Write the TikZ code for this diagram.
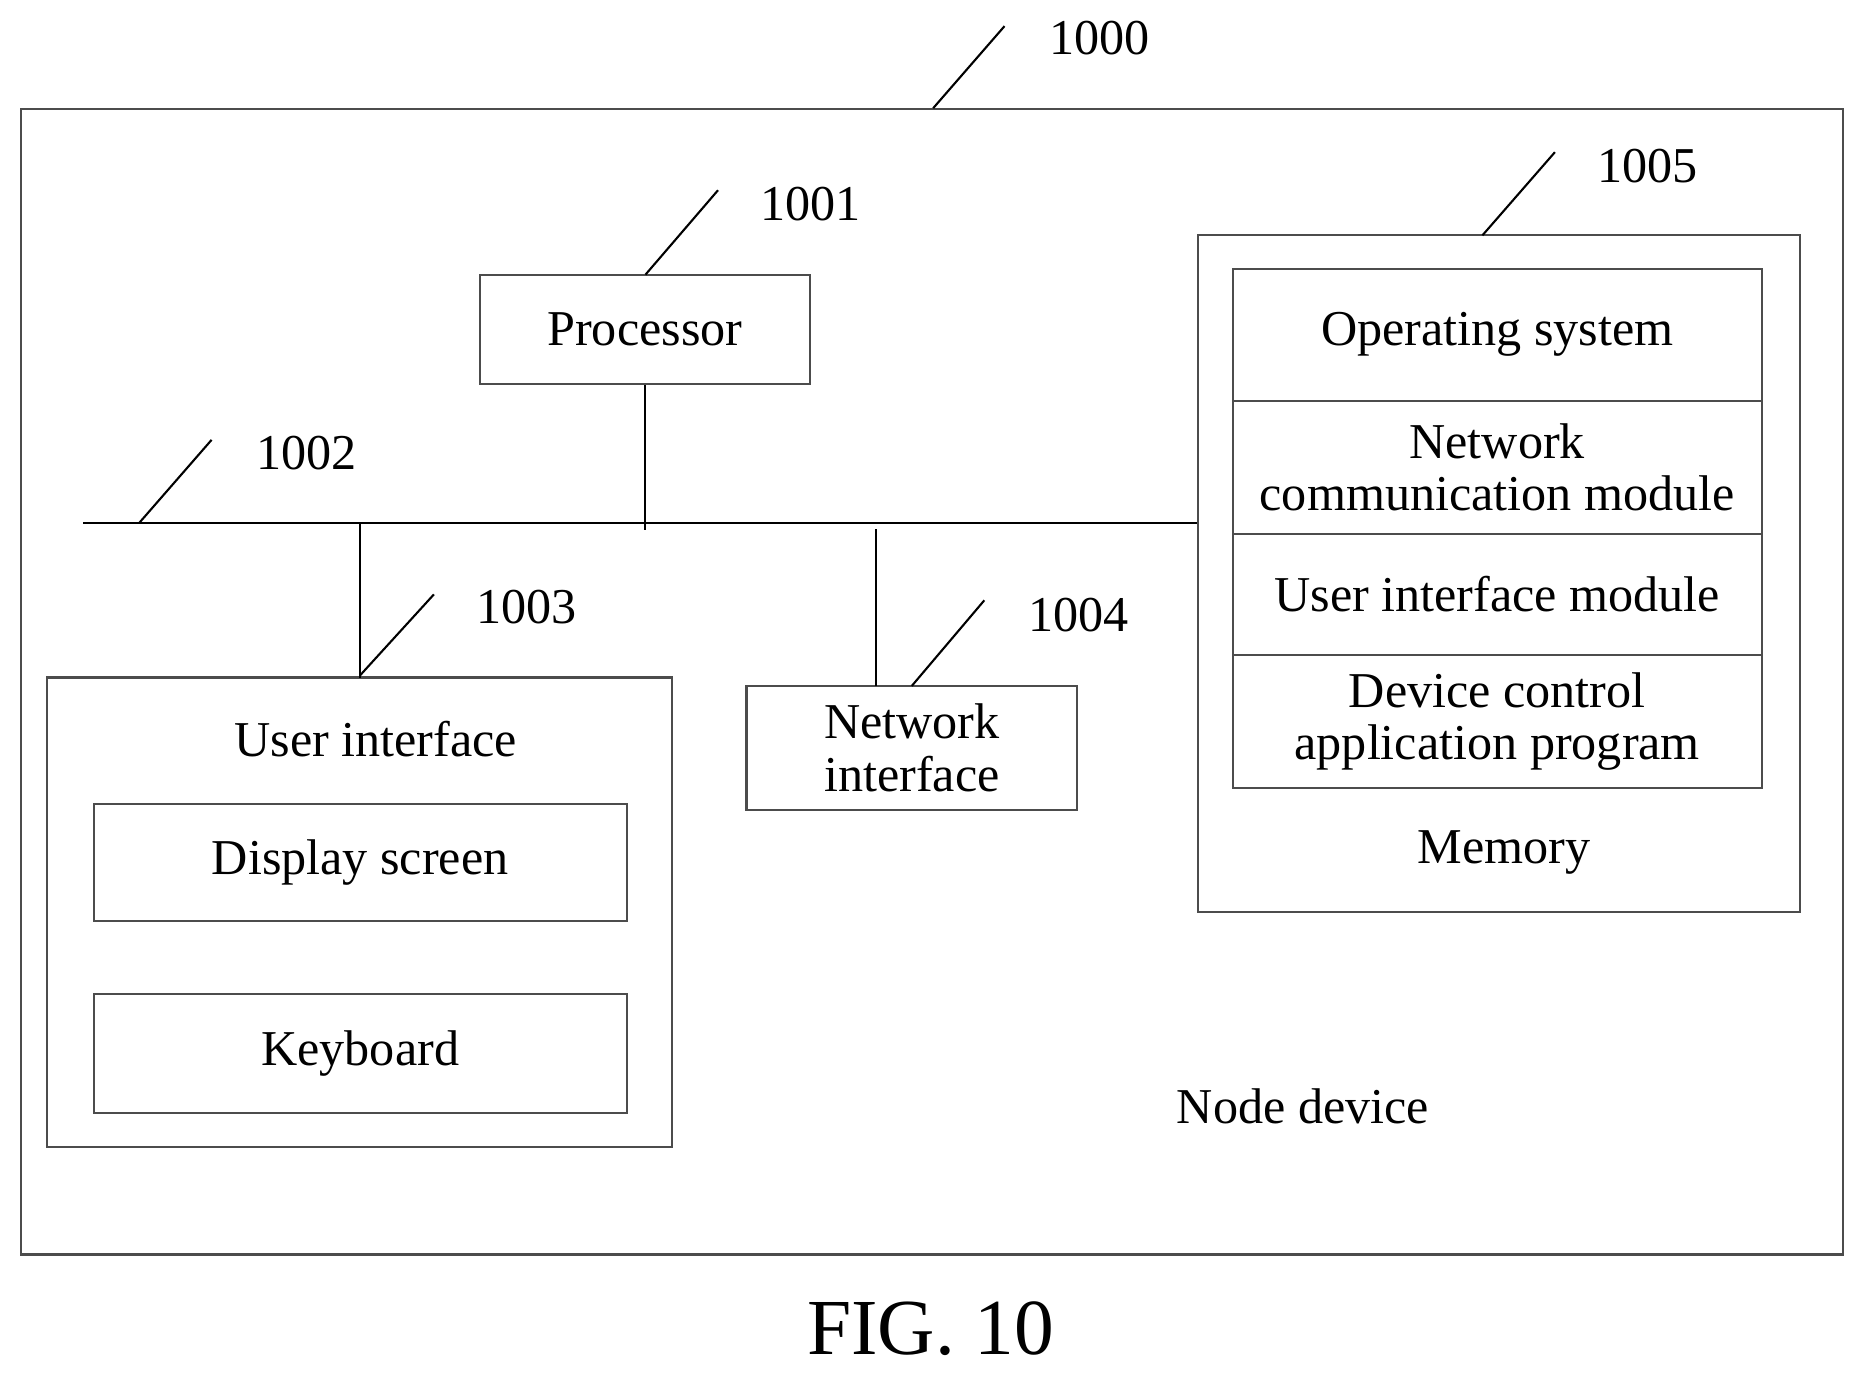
\documentclass[tikz,border=0pt]{standalone}
\usepackage{fontspec}
\setmainfont{Liberation Serif}
\usetikzlibrary{positioning}

\begin{document}
\begin{tikzpicture}[x=0.01cm, y=-0.01cm, every node/.style={font=\fontsize{12pt}{13pt}\selectfont},
    box/.style={draw=black!70, line width=0.5pt, inner sep=0pt},
    lead/.style={draw, line width=0.5pt}]
    \useasboundingbox (0,0) rectangle (1568,1157);

    % outer frame
    \node[box, minimum width=15.32cm, minimum height=9.63cm] (dev) at (784,573.5) {};
    \coordinate (dev1) at (845,22);
    \node (n1000) at (925,32) {1000};
    \draw[lead] (785,91) -- (dev1);

    % processor
    \node[box, minimum width=2.77cm, minimum height=0.92cm] (proc) at (542.5,277) {Processor};
    \node (n1001) at (682,172) {1001};
    \coordinate (proc1) at (604,160);
    \draw[lead] (543,231) -- (proc1);

    % bus
    \coordinate (busL) at (70,440);
    \coordinate (busR) at (1008,440);
    \draw[lead] (busL) -- (busR);
    \node (n1002) at (258,381) {1002};
    \coordinate (bus1) at (178,370);
    \draw[lead] (117,440) -- (bus1);
    \draw[lead] (proc.south) -- ++(0,122);

    % user interface
    \node[box, minimum width=5.25cm, minimum height=3.95cm] (ui) at (302.5,767.5) {};
    \node (uitext) at (316,622) {User interface};
    \node[box, minimum width=4.48cm, minimum height=0.99cm] (disp) at (303,725.5) {Display screen};
    \node[box, minimum width=4.48cm, minimum height=1.00cm] (kbd) at (303,886) {Keyboard};
    \draw[lead] (303,440) -- (303,570);
    \node (n1003) at (443,511) {1003};
    \coordinate (ui1) at (365,500);
    \draw[lead] (303,568) -- (ui1);

    % network interface
    \node[box, minimum width=2.78cm, minimum height=1.04cm, align=center, font=\fontsize{12pt}{12.5pt}\selectfont] (net) at (767,629) {Network\\interface};
    \draw[lead] (737,445) -- (737,577);
    \node (n1004) at (907,517) {1004};
    \coordinate (net1) at (828,505);
    \draw[lead] (767,577) -- (net1);

    % memory
    \node[box, minimum width=5.06cm, minimum height=5.69cm] (mem) at (1261,482.5) {};
    \node (n1005) at (1386,140) {1005};
    \coordinate (mem1) at (1308,128);
    \draw[lead] (1247,198) -- (mem1);
    \node[box, minimum width=4.45cm, minimum height=1.11cm] (os) at (1259.5,281.5) {Operating system};
    \node[box, minimum width=4.45cm, minimum height=1.12cm, align=center, font=\fontsize{12pt}{12.5pt}\selectfont] (ncm) at (1259.5,393) {Network\\communication module};
    \node[box, minimum width=4.45cm, minimum height=1.02cm] (uim) at (1259.5,500) {User interface module};
    \node[box, minimum width=4.45cm, minimum height=1.12cm, align=center, font=\fontsize{12pt}{12.5pt}\selectfont] (dca) at (1259.5,607) {Device control\\application program};
    \node (memtext) at (1265,717) {Memory};

    \node (nodedev) at (1096,931) {Node device};
    \node[font=\fontsize{19pt}{20pt}\selectfont] (fig) at (783,1118) {FIG. 10};
\end{tikzpicture}
\end{document}
